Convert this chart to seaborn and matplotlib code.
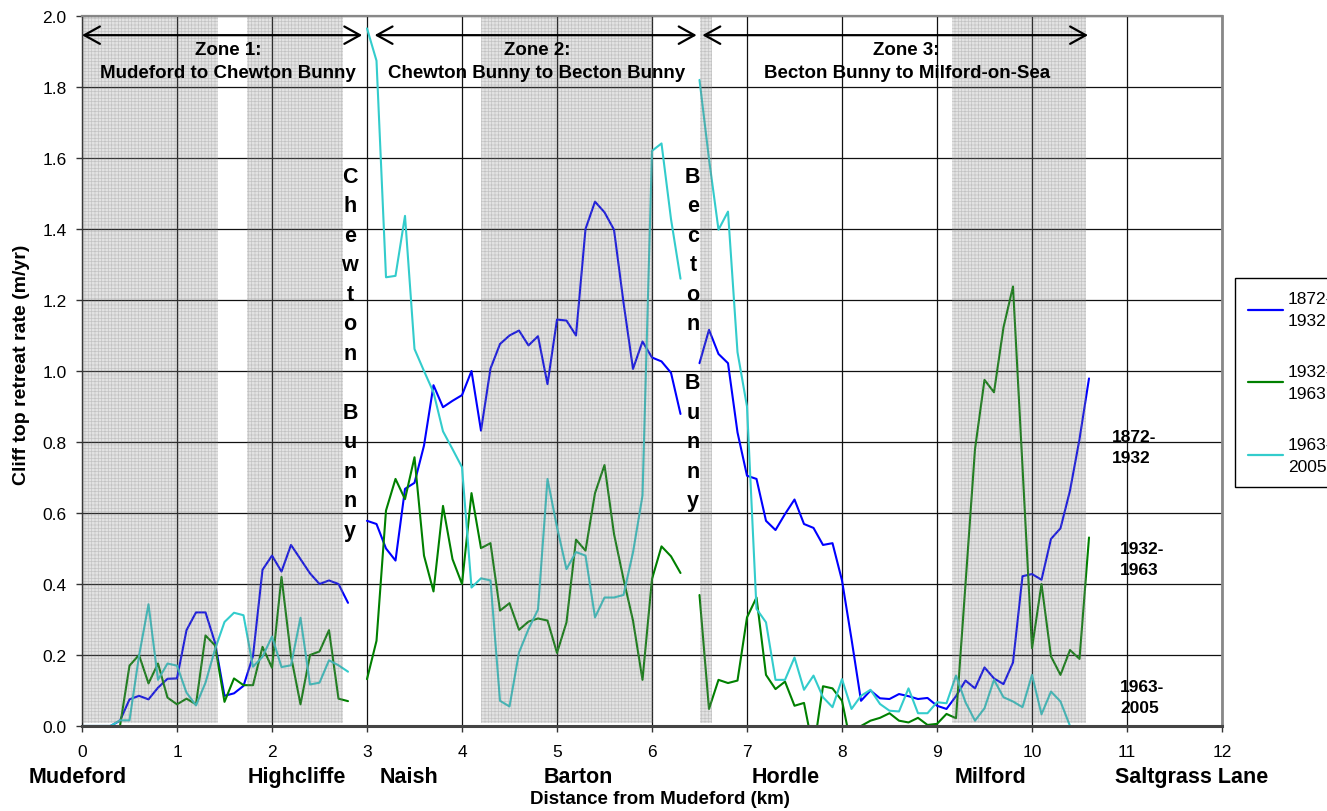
import numpy as np
import pandas as pd
import matplotlib
matplotlib.use("Agg")
import matplotlib.pyplot as plt
import seaborn as sns
from matplotlib.lines import Line2D

sns.set_theme(style="white")
plt.rcParams["font.family"] = ["Liberation Sans", "DejaVu Sans"]
plt.rcParams["hatch.linewidth"] = 0.5
plt.rcParams["text.color"] = "black"
plt.rcParams["xtick.color"] = "black"
plt.rcParams["ytick.color"] = "black"

# ---- data -------------------------------------------------------------
periods = ["1872-\n1932", "1932-\n1963", "1963-\n2005"]
period_colors = ["#0000ff", "#008000", "#33cccc"]

# survey positions (km from Mudeford), 100 m spacing within each zone
km_zone1 = np.round(np.arange(0.0, 2.85, 0.1), 1)
km_zone2 = np.round(np.arange(3.0, 6.35, 0.1), 1)
km_zone3 = np.round(np.arange(6.5, 10.65, 0.1), 1)

# Zone 1: Mudeford to Chewton Bunny
z1_1872 = [0, 0, 0, 0, 0.015, 0.075, 0.085, 0.075, 0.108, 0.133, 0.134, 0.27, 0.32, 0.32,
           0.235, 0.085, 0.092, 0.113, 0.197, 0.44, 0.48, 0.435, 0.51, 0.47, 0.43, 0.40,
           0.41, 0.40, 0.347]
z1_1932 = [0, 0, 0, 0, 0, 0.17, 0.20, 0.12, 0.176, 0.08, 0.061, 0.077, 0.061, 0.255,
           0.227, 0.068, 0.134, 0.115, 0.115, 0.223, 0.164, 0.42, 0.197, 0.061, 0.20,
           0.21, 0.27, 0.077, 0.07]
z1_1963 = [0, 0, 0, 0, 0.016, 0.016, 0.197, 0.343, 0.13, 0.176, 0.17, 0.094, 0.058, 0.122,
           0.216, 0.293, 0.319, 0.312, 0.167, 0.195, 0.252, 0.166, 0.171, 0.305, 0.117,
           0.122, 0.185, 0.171, 0.153]

# Zone 2: Chewton Bunny to Becton Bunny
z2_1872 = [0.578, 0.569, 0.50, 0.466, 0.668, 0.685, 0.79, 0.96, 0.898, 0.916, 0.932, 1.0,
           0.832, 1.007, 1.076, 1.10, 1.114, 1.072, 1.098, 0.963, 1.145, 1.142, 1.10, 1.40,
           1.477, 1.447, 1.398, 1.193, 1.006, 1.083, 1.038, 1.027, 0.995, 0.879]
z2_1932 = [0.132, 0.24, 0.607, 0.696, 0.639, 0.757, 0.48, 0.379, 0.62, 0.47, 0.40, 0.656,
           0.501, 0.515, 0.325, 0.346, 0.271, 0.294, 0.303, 0.297, 0.206, 0.292, 0.525,
           0.494, 0.656, 0.735, 0.541, 0.414, 0.297, 0.13, 0.414, 0.506, 0.478, 0.431]
z2_1963 = [1.965, 1.874, 1.264, 1.268, 1.437, 1.062, 1.0, 0.94, 0.83, 0.78, 0.729, 0.39,
           0.416, 0.41, 0.071, 0.055, 0.207, 0.273, 0.328, 0.696, 0.56, 0.442, 0.49, 0.48,
           0.306, 0.362, 0.362, 0.369, 0.489, 0.649, 1.62, 1.641, 1.428, 1.26]

# Zone 3: Becton Bunny to Milford-on-Sea
z3_1872 = [1.022, 1.116, 1.048, 1.022, 0.827, 0.705, 0.696, 0.578, 0.552, 0.597, 0.638,
           0.569, 0.558, 0.51, 0.515, 0.41, 0.245, 0.071, 0.10, 0.078, 0.076, 0.09, 0.084,
           0.076, 0.079, 0.057, 0.048, 0.084, 0.128, 0.106, 0.165, 0.134, 0.118, 0.179,
           0.422, 0.428, 0.412, 0.527, 0.557, 0.663, 0.808, 0.979]
z3_1932 = [0.369, 0.048, 0.13, 0.121, 0.128, 0.306, 0.362, 0.144, 0.104, 0.125, 0.057,
           0.065, -0.07, 0.112, 0.106, 0.071, -0.06, 0.0, 0.015, 0.023, 0.036, 0.015, 0.01,
           0.023, 0.003, 0.006, 0.034, 0.022, 0.40, 0.78, 0.975, 0.94, 1.123, 1.238, 0.73,
           0.219, 0.40, 0.196, 0.144, 0.214, 0.189, 0.531]
z3_1963 = [1.82, 1.597, 1.398, 1.449, 1.053, 0.90, 0.33, 0.292, 0.13, 0.13, 0.193, 0.102,
           0.142, 0.081, 0.053, 0.132, 0.048, 0.085, 0.102, 0.062, 0.043, 0.041, 0.106,
           0.036, 0.036, 0.067, 0.064, 0.142, 0.067, 0.015, 0.05, 0.13, 0.081, 0.069, 0.053,
           0.144, 0.033, 0.097, 0.069, 0.0, np.nan, np.nan]

zones = {
    "Zone 1": (km_zone1, [z1_1872, z1_1932, z1_1963]),
    "Zone 2": (km_zone2, [z2_1872, z2_1932, z2_1963]),
    "Zone 3": (km_zone3, [z3_1872, z3_1932, z3_1963]),
}

# cliff sections with hatched background
shaded_sections = [(0.0, 1.43), (1.74, 2.75), (4.2, 6.01), (6.5, 6.63), (9.16, 10.57)]

place_names = ["Mudeford", "Highcliffe", "Naish", "Barton", "Hordle", "Milford",
               "Saltgrass Lane"]
place_km = [-0.05, 2.26, 3.44, 5.22, 7.41, 9.56, 11.68]

# ---- long-form table ---------------------------------------------------
rows = []
for zone, (km, series) in zones.items():
    for period, vals in zip(periods, series):
        for d, v in zip(km, vals):
            if not np.isnan(v):
                rows.append({"zone": zone, "period": period, "km": d, "rate": v})
df = pd.DataFrame(rows)

# ---- figure ------------------------------------------------------------
fig = plt.figure(figsize=(13.27, 8.12), dpi=100)
ax = fig.add_axes([82 / 1327, 1 - 727 / 812, (1222 - 82) / 1327, (727 - 17) / 812])

sns.lineplot(data=df, x="km", y="rate", hue="period", units="zone", estimator=None,
             palette=dict(zip(periods, period_colors)), linewidth=1.5, legend=False,
             sort=False, ax=ax)

for a, b in shaded_sections:
    ax.axvspan(a, b, ymin=0.004, ymax=1.0, facecolor=(0.5, 0.5, 0.5, 0.22),
               edgecolor=(0.45, 0.45, 0.45, 0.28), hatch="+++++", linewidth=0, zorder=3)

ax.set_xlim(0, 12)
ax.set_ylim(0, 2.0)
ax.set_xticks(range(0, 13))
ax.set_yticks(np.round(np.arange(0, 2.01, 0.2), 1))
ax.yaxis.set_major_formatter(matplotlib.ticker.FormatStrFormatter("%.1f"))
ax.grid(True, color="#111111", linewidth=0.9)
ax.set_axisbelow(True)
ax.tick_params(axis="both", which="major", bottom=True, left=True, direction="out",
               length=4, width=1, color="#333333", labelsize=12.5, labelcolor="black")
ax.tick_params(axis="x", pad=9)
ax.tick_params(axis="y", pad=7)
ax.set_xlabel("")
ax.set_ylabel("")

for side, col, lw in [("left", "#222222", 1.0), ("bottom", "#444444", 2.2),
                      ("top", "#888888", 1.6), ("right", "#888888", 2.0)]:
    ax.spines[side].set_visible(True)
    ax.spines[side].set_color(col)
    ax.spines[side].set_linewidth(lw)

# zone extents
arrow_y = 1.946
for a, b in [(0.0, 2.95), (3.08, 6.47), (6.53, 10.59)]:
    ax.annotate("", xy=(b, arrow_y), xytext=(a, arrow_y),
                arrowprops=dict(arrowstyle="<->,head_length=0.45,head_width=0.25",
                                mutation_scale=25, lw=1.6, color="black",
                                shrinkA=0, shrinkB=0), zorder=6)

zone_titles = [("Zone 1:", "Mudeford to Chewton Bunny", 1.54),
               ("Zone 2:", "Chewton Bunny to Becton Bunny", 4.79),
               ("Zone 3:", "Becton Bunny to Milford-on-Sea", 8.68)]
for head, sub, xc in zone_titles:
    ax.text(xc, 1.905, head, ha="center", va="center", fontsize=13.5,
            fontweight="bold", zorder=6)
    ax.text(xc, 1.840, sub, ha="center", va="center", fontsize=13.5,
            fontweight="bold", zorder=6)

# stream mouths written top to bottom
step = 0.0831
for label, xc, y0 in [("Chewton Bunny", 2.82, 1.549), ("Becton Bunny", 6.43, 1.549)]:
    for i, ch in enumerate(label):
        if ch != " ":
            ax.text(xc, y0 - i * step, ch, ha="center", va="center", fontsize=15.5,
                    fontweight="bold", zorder=6)

# period labels on the right
for txt, xl, yc in [("1872-\n1932", 10.84, 0.786), ("1932-\n1963", 10.93, 0.47),
                    ("1963-\n2005", 10.93, 0.082)]:
    ax.text(xl, yc, txt, ha="left", va="center", fontsize=12.5, fontweight="bold",
            linespacing=1.45, zorder=6)

# place names under the distance axis
for name, xk in zip(place_names, place_km):
    ax.text(xk, -0.0705, name, transform=ax.get_xaxis_transform(), ha="center",
            va="center", fontsize=15.5, fontweight="bold", clip_on=False)

fig.text(660 / 1327, 1 - 800 / 812, "Distance from Mudeford (km)", ha="center",
         va="center", fontsize=13.5, fontweight="bold")
fig.text(22 / 1327, 1 - 365 / 812, "Cliff top retreat rate (m/yr)", ha="center",
         va="center", rotation=90, fontsize=14, fontweight="bold")

handles = [Line2D([], [], color=c, lw=1.6) for c in period_colors]
leg = ax.legend(handles, periods, loc="upper left",
                bbox_to_anchor=(1235 / 1327, 1 - 279 / 812), bbox_transform=fig.transFigure,
                frameon=True, fancybox=False, edgecolor="black", borderaxespad=0,
                labelspacing=2.05, handlelength=2.0, handletextpad=0.3, borderpad=0.75,
                fontsize=12.5, framealpha=1)
for t in leg.get_texts():
    t.set_linespacing(1.6)
leg.get_frame().set_linewidth(1.0)

fig.savefig("out.png", dpi=100)
